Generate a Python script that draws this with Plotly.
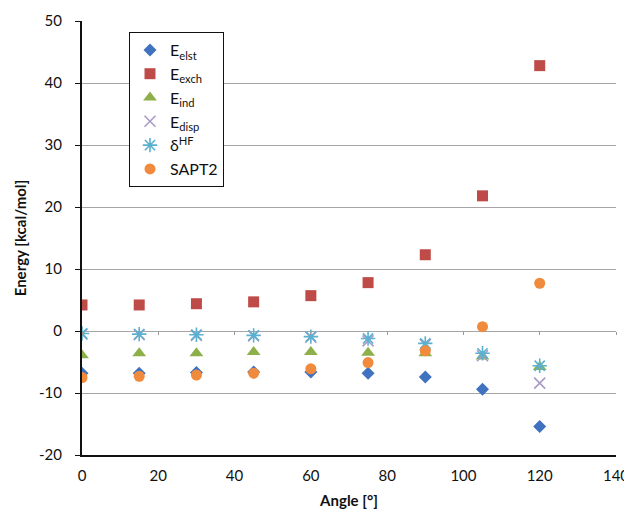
import plotly.graph_objects as go

angles = [0, 15, 30, 45, 60, 75, 90, 105, 120]
e_elst = [-6.8, -6.8, -6.7, -6.6, -6.6, -6.8, -7.4, -9.4, -15.4]
e_exch = [4.2, 4.2, 4.4, 4.7, 5.7, 7.8, 12.3, 21.8, 42.8]
e_ind = [-3.9, -3.6, -3.6, -3.4, -3.4, -3.5, -3.6, -4.1, -5.8]
e_disp = [-0.5, -0.6, -0.7, -0.8, -1.0, -1.6, -2.2, -4.0, -8.4]
d_hf = [-0.4, -0.5, -0.6, -0.7, -0.9, -1.2, -2.0, -3.6, -5.6]
sapt2 = [-7.5, -7.3, -7.1, -6.8, -6.1, -5.1, -3.2, 0.7, 7.7]

x_ticks = [0, 20, 40, 60, 80, 100, 120, 140]
y_ticks = [-20, -10, 0, 10, 20, 30, 40, 50]
y_tick_labels = [str(v) for v in y_ticks]

series = [
    ("E<sub>elst</sub>", e_elst, dict(symbol="diamond", size=10, color="#3F72BF")),
    ("E<sub>exch</sub>", e_exch, dict(symbol="square", size=11, color="#BE4B48")),
    ("E<sub>ind</sub>", e_ind, dict(symbol="triangle-up", size=12, color="#8DB04A")),
    ("E<sub>disp</sub>", e_disp, dict(symbol="x-thin-open", size=11, color="#A99BC6",
                                       line=dict(width=1.6, color="#A99BC6"))),
    ("δ<sup>HF</sup>", d_hf, dict(symbol="asterisk-open", size=12, color="#5BB0CF",
                                  line=dict(width=1.6, color="#5BB0CF"))),
    ("SAPT2", sapt2, dict(symbol="circle", size=11, color="#F08A3C")),
]

fig = go.Figure()
for name, vals, mk in series:
    fig.add_trace(go.Scatter(x=angles, y=vals, mode="markers", name=name, marker=mk))

# invisible trace to drive the secondary (y=0) axis for the small tick marks
fig.add_trace(go.Scatter(x=angles, y=e_elst, xaxis="x2", mode="markers",
                         marker=dict(opacity=0), showlegend=False, hoverinfo="skip"))

fig.update_layout(
    width=624, height=504,
    margin=dict(l=74, r=16, t=13, b=57),
    paper_bgcolor="white", plot_bgcolor="white",
    font=dict(family="Lato, 'Open Sans', sans-serif", size=15, color="#111"),
    xaxis=dict(
        range=[0, 140], tickvals=x_ticks, showgrid=False, zeroline=False,
        showline=True, linecolor="#111", linewidth=2, ticks="", automargin=False,
        ticklabelstandoff=6,
        title=dict(text="<b>Angle [°]</b>", font=dict(size=15), standoff=12),
        tickfont=dict(size=15),
    ),
    xaxis2=dict(
        range=[0, 140], tickvals=x_ticks, overlaying="x", anchor="free",
        position=20 / 70, showgrid=False, zeroline=False, showline=False,
        ticks="outside", ticklen=3, tickcolor="#999", showticklabels=False,
        automargin=False,
    ),
    yaxis=dict(
        range=[-20, 50], tickvals=y_ticks, ticktext=y_tick_labels,
        showgrid=True, gridcolor="#A6A6A6",
        gridwidth=1, zeroline=False, showline=True, linecolor="#111", linewidth=2,
        ticks="outside", ticklen=5, tickcolor="#111", automargin=False,
        ticklabelstandoff=10,
        title=dict(text="<b>Energy [kcal/mol]</b>", font=dict(size=15), standoff=9),
        tickfont=dict(size=15),
    ),
    legend=dict(
        x=(129 - 82) / 534, y=(455 - 32) / 434, xanchor="left", yanchor="top",
        bgcolor="white", bordercolor="#111", borderwidth=1,
        font=dict(size=16, color="#111"), itemwidth=30,
    ),
)

fig.write_html("out.html")
